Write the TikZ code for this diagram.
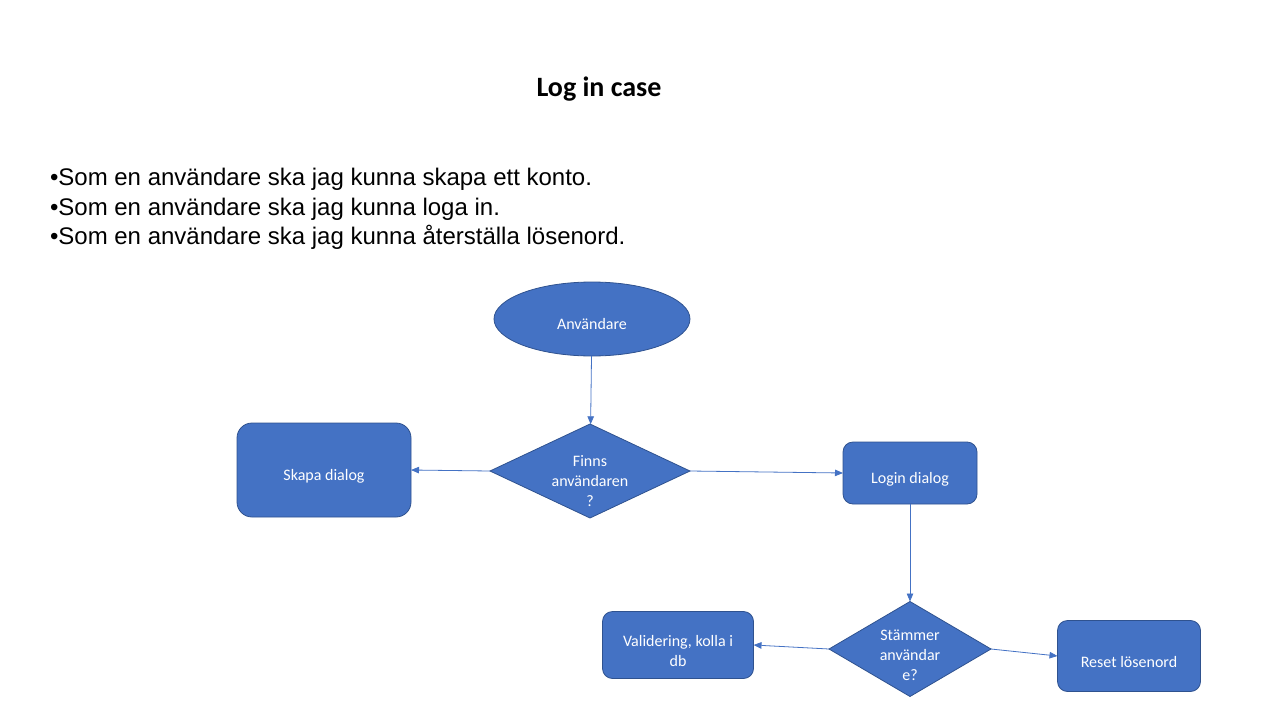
\documentclass[tikz,border=0pt]{standalone}
\usepackage{fontspec}
\setmainfont{Liberation Sans}
\newfontfamily\calfont{Carlito}
\usetikzlibrary{shapes.geometric, arrows.meta}
\definecolor{boxfill}{HTML}{4472C4}
\definecolor{boxline}{HTML}{2F528F}

\begin{document}
\begin{tikzpicture}[x=1pt,y=-1pt,
  every node/.style={inner sep=0pt,outer sep=0pt},
  shp/.style={draw=boxline,line width=0.8pt,fill=boxfill,text=white,align=center,
    text height=23pt,font=\calfont\fontsize{16}{20}\selectfont},
  box/.style={shp,rectangle,rounded corners=10pt},
  ask/.style={shp,diamond,aspect=2.1,inner sep=-15pt},
  con/.style={draw=boxfill,line width=0.8pt,-{Triangle[length=8pt,width=6.5pt]}}]
  \useasboundingbox (0,0) rectangle (1280,720);
  % title and user stories
  \node (title) at (599,89) {\calfont\bfseries\fontsize{28}{32}\selectfont Log in case};
  \node[anchor=base west] (s1) at (50,185.5) {\fontsize{24}{28}\selectfont\textbullet Som en användare ska jag kunna skapa ett konto.};
  \node[anchor=base west] (s2) at (50,215) {\fontsize{24}{28}\selectfont\textbullet Som en användare ska jag kunna loga in.};
  \node[anchor=base west] (s3) at (50,244.5) {\fontsize{24}{28}\selectfont\textbullet Som en användare ska jag kunna återställa lösenord.};
  % flow
  \path (592,319) node[shp,ellipse,text height=21pt,minimum width=196,minimum height=74] (user) {Användare}
  (590,471) node[ask,text height=72pt,minimum width=200,minimum height=94] (finns) {Finns\\användaren\\?}
  (324,470) node[box,rounded corners=15pt,minimum width=174,minimum height=94] (skapa) {Skapa dialog}
  (910,473) node[box,minimum width=134,minimum height=62] (login) {Login dialog}
  (910,649) node[ask,text height=63pt,minimum width=162,minimum height=95] (stammer) {Stämmer\\användar\\e?}
  (678,645) node[box,text height=44pt,minimum width=151,minimum height=67] (valid) {Validering, kolla i\\db}
  (1129,656) node[box,minimum width=143,minimum height=71] (reset) {Reset lösenord};
  \draw[con] (user) -- (finns);
  \draw[con] (finns.west) -- (skapa.east);
  \draw[con] (finns.east) -- (login.west);
  \draw[con] (login) -- (stammer);
  \draw[con] (stammer.west) -- (valid.east);
  \draw[con] (stammer.east) -- (reset.west);
\end{tikzpicture}
\end{document}
